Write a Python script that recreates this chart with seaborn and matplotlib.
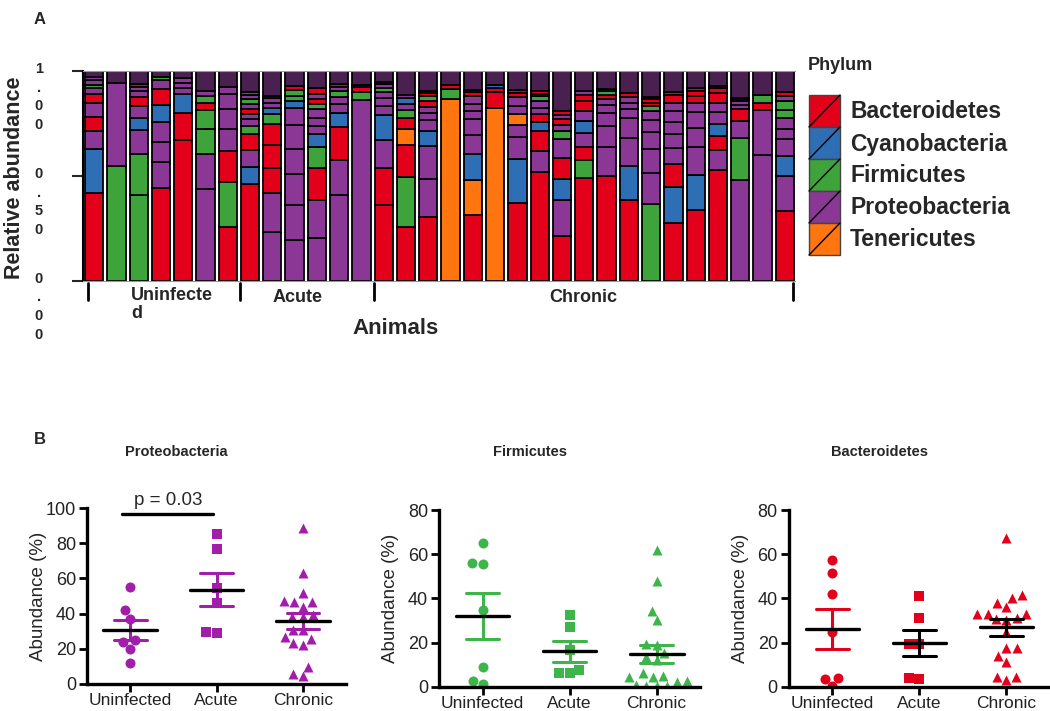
import numpy as np
import pandas as pd
import seaborn as sns
import matplotlib.pyplot as plt
from matplotlib.patches import Rectangle

sns.set_style("white")
plt.rcParams['font.family'] = ['Liberation Sans', 'DejaVu Sans']

# ---- Panel A data: relative abundance per animal, segments bottom -> top ----
phyla = ["Bacteroidetes", "Cyanobacteria", "Firmicutes", "Proteobacteria", "Tenericutes"]
phylum_codes = ["R", "B", "G", "P", "O"]
phylum_colors = ["#E2001A", "#2E6EB5", "#3EA33A", "#8A3795", "#FF750F"]
other_color = "#4a2050"

uninfected_bars = [
    [("R", .42), ("B", .21), ("P", .085), ("R", .065), ("P", .07), ("R", .04), ("P", .03), ("G", .015), ("P", .02), ("P", .015)],
    [("G", .55), ("P", .395)],
    [("G", .41), ("G", .195), ("P", .115), ("B", .055), ("P", .06), ("R", .04), ("P", .03), ("P", .02), ("R", .015)],
    [("R", .445), ("P", .12), ("P", .095), ("P", .095), ("B", .085), ("R", .075), ("P", .04), ("G", .015)],
    [("R", .67), ("R", .13), ("B", .09), ("P", .03), ("P", .025), ("P", .02)],
    [("P", .44), ("P", .165), ("G", .12), ("G", .09), ("R", .035), ("G", .03), ("P", .025)],
    [("R", .255), ("G", .215), ("R", .15), ("P", .105), ("P", .095), ("P", .07), ("P", .035)],
]
acute_bars = [
    [("R", .46), ("B", .085), ("P", .08), ("R", .075), ("G", .04), ("P", .03), ("P", .025), ("R", .025), ("P", .025), ("G", .02), ("P", .02), ("P", .015)],
    [("P", .235), ("P", .185), ("R", .12), ("R", .11), ("R", .10), ("G", .045), ("B", .03), ("P", .025), ("P", .02), ("O", .01)],
    [("P", .195), ("P", .167), ("P", .146), ("P", .12), ("P", .115), ("P", .08), ("B", .035), ("G", .025), ("G", .027), ("R", .02)],
    [("P", .206), ("P", .18), ("R", .15), ("G", .1), ("B", .066), ("P", .035), ("P", .04), ("P", .04), ("G", .025), ("R", .025), ("P", .025), ("R", .025)],
    [("P", .41), ("P", .165), ("R", .16), ("B", .065), ("P", .045), ("P", .03), ("G", .03), ("P", .02), ("R", .015)],
    [("P", .86), ("G", .04), ("R", .025), ("B", .01)],
]
chronic_bars = [
    [("R", .36), ("R", .18), ("P", .13), ("B", .12), ("P", .045), ("P", .036), ("P", .03), ("G", .02), ("P", .015), ("R", .01)],
    [("R", .255), ("G", .24), ("R", .155), ("O", .075), ("R", .05), ("G", .04), ("P", .03), ("B", .025), ("P", .015)],
    [("R", .305), ("P", .18), ("P", .16), ("B", .07), ("P", .05), ("P", .035), ("P", .03), ("R", .025), ("G", .025), ("R", .015), ("G", .01)],
    [("O", .865), ("G", .05), ("R", .02)],
    [("R", .315), ("O", .165), ("B", .125), ("P", .09), ("P", .075), ("P", .04), ("P", .035), ("P", .035), ("R", .02), ("R", .01)],
    [("O", .825), ("R", .075), ("R", .02), ("B", .015)],
    [("R", .37), ("B", .21), ("P", .105), ("P", .06), ("O", .05), ("P", .04), ("P", .04), ("R", .02), ("R", .015)],
    [("R", .52), ("P", .1), ("R", .095), ("B", .04), ("R", .04), ("P", .03), ("P", .03), ("G", .025), ("O", .012), ("R", .012)],
    [("R", .215), ("P", .17), ("B", .1), ("R", .1), ("P", .09), ("G", .04), ("P", .03), ("R", .025), ("P", .02), ("R", .02)],
    [("R", .49), ("G", .085), ("R", .065), ("P", .065), ("B", .055), ("P", .05), ("R", .045), ("R", .03), ("P", .02)],
    [("R", .5), ("P", .14), ("P", .1), ("P", .06), ("P", .04), ("P", .025), ("R", .02), ("G", .02), ("B", .01)],
    [("R", .385), ("B", .165), ("P", .13), ("P", .095), ("P", .045), ("P", .03), ("P", .025), ("R", .02)],
    [("G", .365), ("P", .15), ("P", .115), ("P", .08), ("P", .055), ("P", .045), ("G", .025), ("R", .015), ("R", .015), ("R", .01)],
    [("R", .275), ("B", .175), ("R", .105), ("P", .08), ("P", .065), ("P", .055), ("P", .055), ("P", .04), ("R", .035), ("R", .015)],
    [("R", .34), ("B", .165), ("P", .135), ("P", .09), ("P", .075), ("P", .045), ("R", .03), ("R", .025), ("R", .015)],
    [("R", .53), ("P", .095), ("R", .065), ("B", .06), ("P", .055), ("P", .045), ("R", .045), ("R", .025), ("P", .01)],
    [("P", .48), ("G", .2), ("P", .08), ("R", .06), ("P", .02), ("P", .015), ("B", .008), ("G", .007)],
    [("P", .6), ("P", .215), ("R", .035), ("G", .035)],
    [("R", .335), ("P", .165), ("B", .095), ("P", .08), ("P", .05), ("P", .05), ("G", .04), ("G", .04), ("P", .025), ("R", .02)],
]
group_labels_a = ["Uninfecte\nd", "Acute", "Chronic"]

# ---- Panel B data: abundance (%) per animal ----
groups = ["Uninfected", "Acute", "Chronic"]
markers = ["o", "s", "^"]

proteo_uninf = [55, 42, 37, 24, 25, 20, 12]
proteo_acute = [85.4, 76.7, 54.5, 46.3, 29.2, 29.8]
proteo_chronic = [88.6, 62.9, 51.5, 46.8, 46.8, 47.3, 43.6, 39.2, 37.9, 37.9,
                  30.7, 30.7, 26.9, 25.6, 23.1, 22.2, 9.5, 5.5, 4.5]

firm_uninf = [64.9, 56.2, 55.5, 35, 9.1, 1.2, 2.6]
firm_acute = [32.5, 26.9, 16.6, 7.8, 6.3, 6.3]
firm_chronic = [61.9, 48, 34.3, 30.2, 19.3, 18.9, 15.5, 13.6, 12.4, 6.3,
                4.8, 4.5, 4.5, 2.3, 2.5, 1, 0.5, 0.3, 0.5]

bact_uninf = [57.4, 51.3, 42, 24.9, 4.2, 3.5, 0.3]
bact_acute = [41, 31.2, 19.6, 19.3, 3.8, 4.2]
bact_chronic = [67.2, 40, 41.5, 38, 36.2, 33.2, 33.2, 33.2, 31, 30.2,
                24.9, 17.4, 17.4, 13.9, 11.3, 4.5, 3, 4.5, 30.5]

fig = plt.figure(figsize=(10.5, 7.11), dpi=100)

# ================= Panel A =================
colmap = dict(zip(phylum_codes, phylum_colors))
all_bars = uninfected_bars + acute_bars + chronic_bars
axA = fig.add_axes([0.079, 0.6048, 0.678, 0.2953])
for i, segs in enumerate(all_bars):
    bottom = 0
    rest = 1 - sum(h for _, h in segs)
    for code, h in segs + [("X", rest)]:
        axA.bar(i, h, bottom=bottom, width=0.82, color=colmap.get(code, other_color),
                edgecolor="black", linewidth=1.3)
        bottom += h
axA.set_xlim(-0.5, 31.45)
axA.set_ylim(0, 1)
axA.set_xticks([])
axA.set_yticks([0, 0.5, 1])
axA.set_yticklabels([])
axA.tick_params(axis="y", direction="out", length=8, width=1.5, left=True)
axA.spines["right"].set_visible(False)
for s in ["top", "bottom"]:
    axA.spines[s].set_color("#999999")
    axA.spines[s].set_linewidth(0.8)
axA.spines["left"].set_color("black")
axA.spines["left"].set_linewidth(1.5)

ytr = axA.get_yaxis_transform()
for val, lab in zip([1, 0.5, 0], ["1\n.\n0\n0", "0\n.\n5\n0", "0\n.\n0\n0"]):
    axA.text(-0.062, val + 0.045, lab, transform=ytr, ha="center", va="top",
             fontsize=10.5, fontweight="bold", linespacing=1.45)

# group brackets below the bars
xtr = axA.get_xaxis_transform()
counts = [len(uninfected_bars), len(acute_bars), len(chronic_bars)]
edges = [-0.27] + list(np.cumsum(counts)[:-1] - 0.45) + [31.35]
for e in edges:
    axA.plot([e, e], [-0.01, -0.09], transform=xtr, color="black", lw=2, clip_on=False)

# ================= Panel B =================
def dot_panel(rect, title_x, vals, color, err_colors, ymax, title):
    ax = fig.add_axes(rect)
    for g, m, v in zip(groups, markers, vals):
        sns.swarmplot(x=[g] * len(v), y=v, order=groups, marker=m, color=color,
                      size=7.2, linewidth=0, ax=ax, zorder=2)
    for k, (v, ec) in enumerate(zip(vals, err_colors)):
        v = np.asarray(v, dtype=float)
        mean = v.mean()
        sem = v.std(ddof=1) / np.sqrt(len(v))
        ax.plot([k, k], [mean - sem, mean + sem], color=ec, lw=2.2, zorder=3)
        for yy in (mean - sem, mean + sem):
            ax.plot([k - 0.19, k + 0.19], [yy, yy], color=ec, lw=2.2, zorder=3)
        ax.plot([k - 0.31, k + 0.31], [mean, mean], color="black", lw=2.4, zorder=4)
    ax.set_xlim(-0.5, 2.5)
    ax.set_ylim(0, ymax)
    ax.set_yticks(np.arange(0, ymax + 1, 20))
    ax.set_xlabel("")
    ax.set_ylabel("Abundance (%)", fontsize=13.5)
    ax.yaxis.set_label_coords(-0.155, 0.5)
    sns.despine(ax=ax)
    for s in ["left", "bottom"]:
        ax.spines[s].set_linewidth(2.4)
        ax.spines[s].set_color("black")
    ax.tick_params(axis="both", direction="out", length=6, width=2, labelsize=13,
                   left=True, bottom=True, colors="black", labelcolor="#222222", pad=2)
    ax.tick_params(axis="x", labelsize=12.5, pad=0.5)
    fig.text(title_x / 1050, 1 - 452 / 711, title, ha="center", va="center",
             fontsize=10.5, fontweight="bold")
    return ax

purple_pt = "#A11DAA"
green_pt = "#3DB54A"
red_pt = "#E2001A"

ax1 = dot_panel([0.0829, 0.038, 0.2467, 0.2475], 176,
                [proteo_uninf, proteo_acute, proteo_chronic], purple_pt,
                [purple_pt, purple_pt, purple_pt], 100, "Proteobacteria")
ax1.plot([-0.09, 0.96], [96.6, 96.6], color="black", lw=2.4, clip_on=False)
ax1.text(0.44, 99.5, "p = 0.03", ha="center", va="bottom", fontsize=13.5)

ax2 = dot_panel([0.4181, 0.0338, 0.2486, 0.2489], 530,
                [firm_uninf, firm_acute, firm_chronic], green_pt,
                [green_pt, green_pt, green_pt], 80, "Firmicutes")
ax3 = dot_panel([0.7514, 0.0338, 0.2486, 0.2489], 880,
                [bact_uninf, bact_acute, bact_chronic], red_pt,
                [red_pt, "black", "black"], 80, "Bacteroidetes")

# ================= overlay text & legend (pixel coordinates) =================
ov = fig.add_axes([0, 0, 1, 1])
ov.set_xlim(0, 1050)
ov.set_ylim(711, 0)
ov.axis("off")
ov.patch.set_alpha(0)

ov.text(40, 20, "A", fontsize=12, fontweight="bold", ha="center", va="center")
ov.text(40, 440, "B", fontsize=12, fontweight="bold", ha="center", va="center")
ov.text(15, 178, "Relative abundance", rotation=90, fontsize=15.5, fontweight="bold",
        ha="center", va="center")
ov.text(396, 328, "Animals", fontsize=16, fontweight="bold", ha="center", va="center")
ov.text(131, 287, group_labels_a[0], fontsize=13, fontweight="bold", ha="left", va="top",
        linespacing=1.05)
ov.text(298, 297, group_labels_a[1], fontsize=13, fontweight="bold", ha="center", va="center")
ov.text(583, 297, group_labels_a[2], fontsize=13, fontweight="bold", ha="center", va="center")

ov.text(808, 66, "Phylum", fontsize=13, fontweight="bold", ha="left", va="center")
box_top = 95
for k, (name, col) in enumerate(zip(phyla, phylum_colors)):
    y0 = box_top + k * 32
    ov.add_patch(Rectangle((809, y0), 31, 32, facecolor=col, edgecolor="#444444", lw=1))
    ov.plot([809, 840], [y0 + 32, y0], color="black", lw=1)
    ov.text(850, y0 + 17, name, fontsize=16.5, fontweight="bold", ha="left", va="center")

fig.savefig("out.png", dpi=100)
